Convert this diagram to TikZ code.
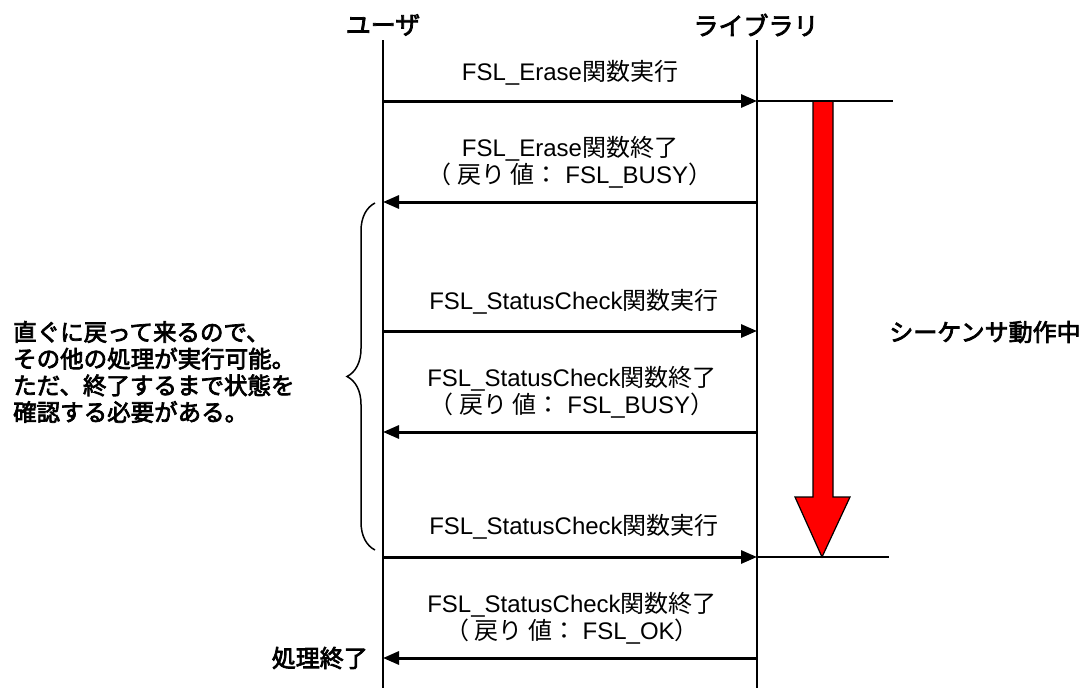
\documentclass[tikz,border=0pt]{standalone}
\usepackage{fontspec}
\setmainfont{Liberation Sans}
\newfontfamily\cjk{Noto Sans CJK JP}
\newfontfamily\cjkb[FakeBold=3]{Noto Sans CJK JP}
\newcommand\J[1]{{\cjk #1}}
\usetikzlibrary{arrows.meta,decorations.pathreplacing}
\begin{document}
\begin{tikzpicture}[x=1pt,y=-1pt,
  life/.style={line width=2pt},
  msg/.style={line width=3pt,-{Triangle[length=16pt,width=13pt]}},
  lbl/.style={font=\fontsize{24}{27}\selectfont, align=center, inner sep=0pt},
  head/.style={font=\fontsize{25}{28}\selectfont\cjkb, inner sep=0pt},
  note/.style={font=\fontsize{23.5}{26.7}\selectfont\cjkb, inner sep=0pt, align=left},
  bracestyle/.style={line width=1.5pt, decorate, decoration={brace, amplitude=28pt}}]
\useasboundingbox (0,0) rectangle (1087,688);
% headers and lifelines
\node[head] (user) at (383,25) {ユーザ};
\node[head] (lib) at (756,25) {ライブラリ};
\coordinate (uT) at (383,40);
\coordinate (uB) at (383,688);
\coordinate (lT) at (757,40);
\coordinate (lB) at (757,688);
\draw[life] (uT) -- (uB);
\draw[life] (lT) -- (lB);
% message end points
\coordinate (u1) at (383,101); \coordinate (l1) at (757,101);
\coordinate (u2) at (383,202); \coordinate (l2) at (757,202);
\coordinate (u3) at (383,331); \coordinate (l3) at (757,331);
\coordinate (u4) at (383,432); \coordinate (l4) at (757,432);
\coordinate (u5) at (383,557); \coordinate (l5) at (757,557);
\coordinate (u6) at (383,658); \coordinate (l6) at (757,658);
% sequencer red arrow
\draw[fill=red, line width=1.2pt, line join=miter]
  (813,101) -- (833,101) -- (833,497) -- (850,497) -- (822,557) -- (795,497) -- (813,497) -- cycle;
\coordinate (r1) at (893,101);
\coordinate (r5) at (889,557);
\draw[life] (l1) -- (r1);
\draw[life] (l5) -- (r5);
% messages
\draw[msg] (u1) -- (l1);
\draw[msg] (l2) -- (u2);
\draw[msg] (u3) -- (l3);
\draw[msg] (l4) -- (u4);
\draw[msg] (u5) -- (l5);
\draw[msg] (l6) -- (u6);
% labels
\node[lbl] (t1) at (570,73) {FSL\_Erase\J{関数実行}};
\node[lbl] (t2) at (570,162) {FSL\_Erase\J{関数終了}\\\J{（ 戻り 値：} FSL\_BUSY\J{）}};
\node[lbl] (t3) at (574,302) {FSL\_StatusCheck\J{関数実行}};
\node[lbl] (t4) at (572,392) {FSL\_StatusCheck\J{関数終了}\\\J{（ 戻り 値：} FSL\_BUSY\J{）}};
\node[lbl] (t5) at (574,527) {FSL\_StatusCheck\J{関数実行}};
\node[lbl] (t6) at (572,618) {FSL\_StatusCheck\J{関数終了}\\\J{（ 戻り 値：} FSL\_OK\J{）}};
% brace and notes
\coordinate (bB) at (375,550);
\coordinate (bT) at (375,203);
\draw[bracestyle] (bB) -- (bT);
\node[note, anchor=west] (why) at (13,372) {直ぐに戻って来るので、\\その他の処理が実行可能。\\ただ、終了するまで状態を\\確認する必要がある。};
\node[head, font=\fontsize{24}{27}\selectfont\cjkb] (seq) at (985,332) {シーケンサ動作中};
\node[head, font=\fontsize{24}{27}\selectfont\cjkb, anchor=east] (done) at (368,658) {処理終了};
\end{tikzpicture}
\end{document}
